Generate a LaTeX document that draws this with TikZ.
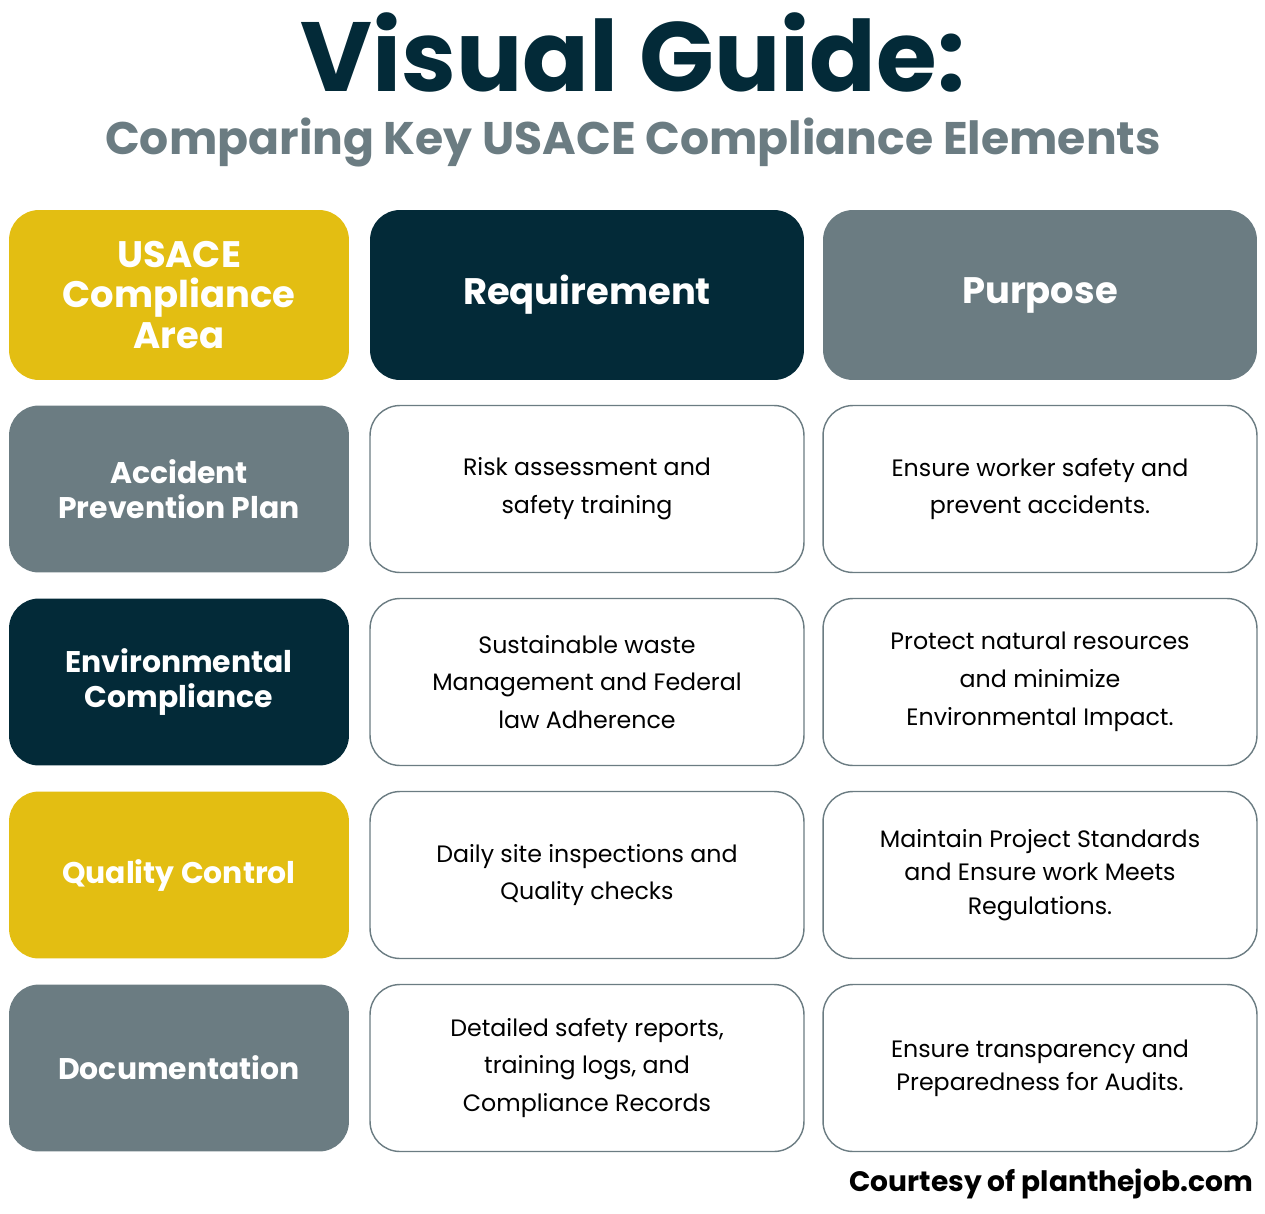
\documentclass[tikz,border=0pt]{standalone}
\usepackage{fontspec}
\setmainfont{Poppins}
\usepackage{tikz}
\definecolor{gold}{HTML}{E3BE12}
\definecolor{navy}{HTML}{032A38}
\definecolor{slate}{HTML}{6B7C82}
\tikzset{
  cell/.style={rounded corners=0.6cm, minimum height=3.34cm, align=center, inner sep=0pt},
  head/.style={cell, fill=#1, text=white, font=\bfseries\fontsize{17}{20}\selectfont},
  body/.style={cell, draw=slate, line width=0.8pt, fill=white, text=black, font=\fontsize{13.5}{21.5}\selectfont, minimum width=8.68cm}
}
\begin{document}
\begin{tikzpicture}[x=0.02cm, y=-0.02cm]
\useasboundingbox (0,0) rectangle (1265,1214);
\node (title) at (633,52) {\color{navy}\bfseries\fontsize{56}{60}\selectfont Visual Guide:};
\node (subtitle) at (633,142) {\color{slate}\bfseries\fontsize{26}{30}\selectfont Comparing Key USACE Compliance Elements};
% header row
\node[head=gold, minimum width=6.8cm, minimum height=3.4cm, font=\bfseries\fontsize{21}{23}\selectfont] (h1) at (179,295) {USACE\\Compliance\\Area};
\node[head=navy, minimum width=8.68cm, minimum height=3.4cm, font=\bfseries\fontsize{21}{24}\selectfont] (h2) at (587,295) {Requirement};
\node[head=slate, minimum width=8.68cm, minimum height=3.4cm, font=\bfseries\fontsize{21}{24}\selectfont] (h3) at (1040,295) {Purpose};
% rows
\node[head=slate, minimum width=6.8cm] (a1) at (179,489) {Accident\\Prevention Plan};
\node[body] (r1) at (587,489) {Risk assessment and\\safety training};
\node[body] (p1) at (1040,489) {Ensure worker safety and\\prevent accidents.};
\node[head=navy, minimum width=6.8cm] (a2) at (179,682) {Environmental\\Compliance};
\node[body] (r2) at (587,682) {Sustainable waste\\Management and Federal\\law Adherence};
\node[body] (p2) at (1040,682) {Protect natural resources\\and minimize\\Environmental Impact.};
\node[head=gold, minimum width=6.8cm] (a3) at (179,875) {Quality Control};
\node[body] (r3) at (587,875) {Daily site inspections and\\Quality checks};
\node[body, font=\fontsize{13.5}{19}\selectfont] (p3) at (1040,875) {Maintain Project Standards\\and Ensure work Meets\\Regulations.};
\node[head=slate, minimum width=6.8cm] (a4) at (179,1068) {Documentation};
\node[body] (r4) at (587,1068) {Detailed safety reports,\\training logs, and\\Compliance Records};
\node[body, font=\fontsize{13.5}{19}\selectfont] (p4) at (1040,1068) {Ensure transparency and\\Preparedness for Audits.};
\node[anchor=east, font=\bfseries\fontsize{16}{19}\selectfont] (credit) at (1259,1184) {Courtesy of planthejob.com};
\end{tikzpicture}
\end{document}
